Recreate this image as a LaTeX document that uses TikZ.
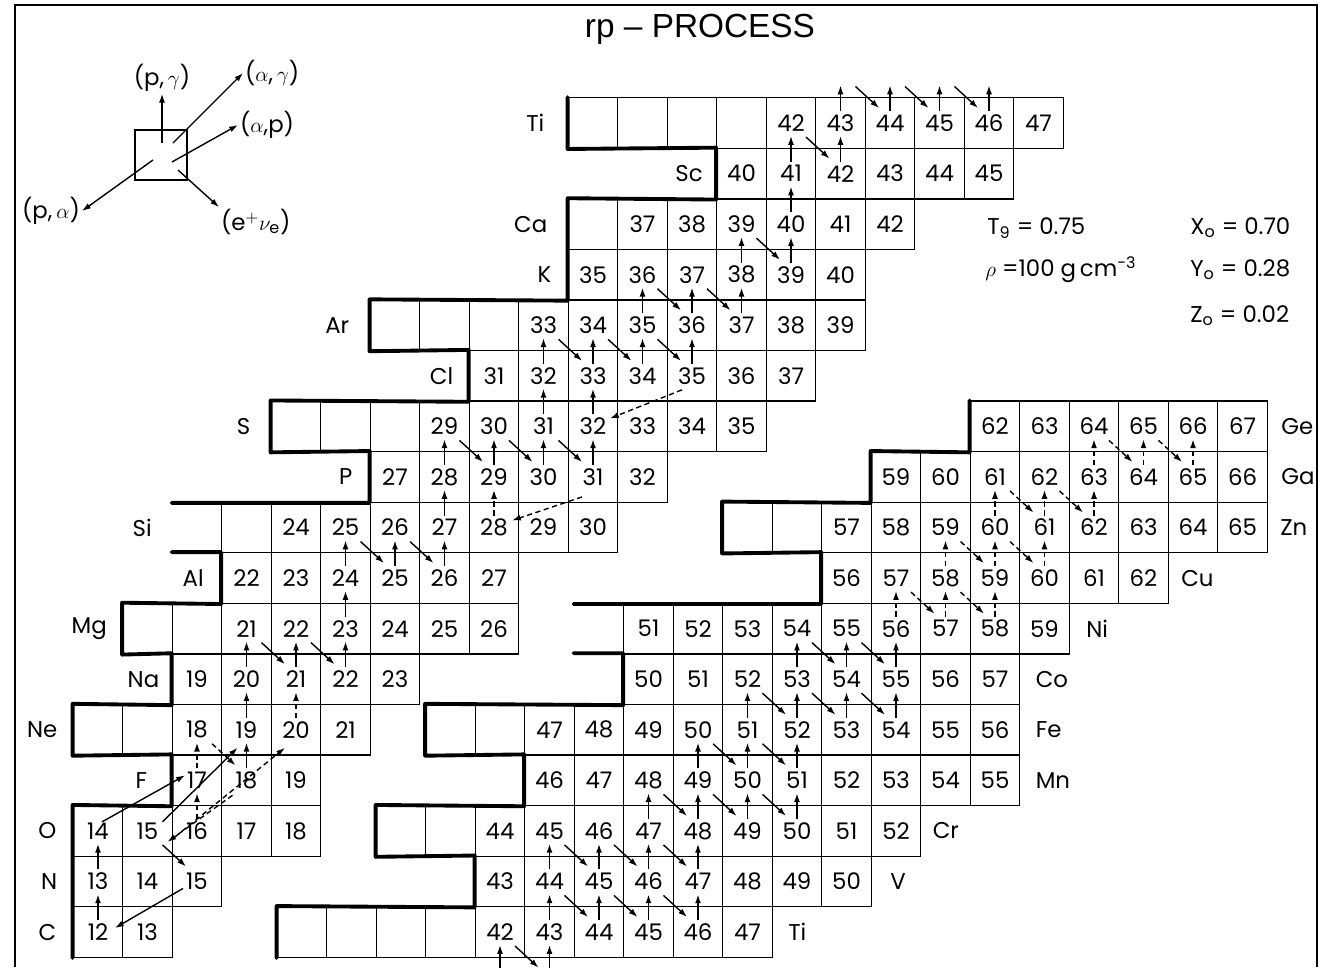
\documentclass[tikz,border=0pt]{standalone}
\usepackage{fontspec}
\setmainfont{Poppins}
\newfontfamily\titlefont{Liberation Sans}
\usetikzlibrary{arrows.meta,calc}
\newcommand\cellfont{\fontsize{13}{14}\selectfont}
\tikzset{
  cell/.style={draw, line width=0.75pt, minimum width=0.99cm, minimum height=1.0112cm, inner sep=0pt, font=\cellfont},
  elem/.style={font=\cellfont, inner sep=0pt},
  drip/.style={line width=2.2pt, line join=round, line cap=round},
  rx/.style={line width=0.8pt, -{Latex[length=5pt,width=3.4pt]}},
  rxd/.style={rx, dash pattern=on 3pt off 2pt},
  lab/.style={font=\cellfont, inner sep=1pt},
  par/.style={font=\cellfont, inner sep=0pt, anchor=west},
}
% one row of the light chart (C..Ti): Z, first N, mass numbers
\newcommand\Lrow[3]{%
  \foreach \m [count=\k from 0] in {#3} {%
    \pgfmathtruncatemacro\nn{#2+\k}%
    \node[cell] (L#1-\nn) at ({98+(\nn-6)*49.5},{932-(#1-6)*50.56}) {\m};
  }}
\newcommand\Lempty[2]{%
  \foreach \nn in {#2} {%
    \node[cell] (L#1-\nn) at ({98+(\nn-6)*49.5},{932-(#1-6)*50.56}) {};
  }}
% one row of the heavy chart (Ti..Ge)
\newcommand\Rrow[3]{%
  \foreach \m [count=\k from 0] in {#3} {%
    \pgfmathtruncatemacro\nn{#2+\k}%
    \node[cell] (R#1-\nn) at ({500+(\nn-20)*49.5},{932-(#1-22)*50.56}) {\m};
  }}
\newcommand\Rempty[2]{%
  \foreach \nn in {#2} {%
    \node[cell] (R#1-\nn) at ({500+(\nn-20)*49.5},{932-(#1-22)*50.56}) {};
  }}
% (p,gamma): straight up;  beta decay: down to the right
\newcommand\rxup[3][]{\draw[rx,#1] ($(#2.center)+(0,-12)$) -- ($(#3.center)+(0,13)$);}
\newcommand\rxdn[3][]{\draw[rx,#1] ($(#2.center)+(15,14)$) -- ($(#3.center)+(-11,-15)$);}

\begin{document}
\begin{tikzpicture}[x=0.02cm,y=-0.02cm]
\useasboundingbox (0,0) rectangle (1335,967);
\fill[white] (0,0) rectangle (1335,967);
\draw[line width=1.2pt] (15,967) -- (15,5) -- (1317,5) -- (1317,967);

\node[font=\titlefont\fontsize{19}{22}\selectfont, inner sep=0pt] (title) at (700,29) {rp – PROCESS};

% ---------------- light nuclei ----------------
\Lrow{6}{6}{12,13}
\Lrow{7}{6}{13,14,15}
\Lrow{8}{6}{14,15,16,17,18}
\Lrow{9}{8}{17,18,19}
\Lempty{10}{6,7}\Lrow{10}{8}{18,19,20,21}
\Lrow{11}{8}{19,20,21,22,23}
\Lempty{12}{7,8}\Lrow{12}{9}{21,22,23,24,25,26}
\Lrow{13}{9}{22,23,24,25,26,27}
\Lempty{14}{9}\Lrow{14}{10}{24,25,26,27,28,29,30}
\Lrow{15}{12}{27,28,29,30,31,32}
\Lempty{16}{10,11,12}\Lrow{16}{13}{29,30,31,32,33,34,35}
\Lrow{17}{14}{31,32,33,34,35,36,37}
\Lempty{18}{12,13,14}\Lrow{18}{15}{33,34,35,36,37,38,39}
\Lrow{19}{16}{35,36,37,38,39,40}
\Lempty{20}{16}\Lrow{20}{17}{37,38,39,40,41,42}
\Lrow{21}{19}{40,41,42,43,44,45}
\Lempty{22}{16,17,18,19}\Lrow{22}{20}{42,43,44,45,46,47}

\node[elem,anchor=east] (zC)  at ($(L6-6.west)+(-16,0)$) {C};
\node[elem,anchor=east] (zN)  at ($(L7-6.west)+(-15,0)$) {N};
\node[elem,anchor=east] (zO)  at ($(L8-6.west)+(-16,0)$) {O};
\node[elem,anchor=east] (zF)  at ($(L9-8.west)+(-24,0)$) {F};
\node[elem,anchor=east] (zNe) at ($(L10-6.west)+(-15,0)$) {Ne};
\node[elem,anchor=east] (zNa) at ($(L11-8.west)+(-12,0)$) {Na};
\node[elem,anchor=east] (zMg) at ($(L12-7.west)+(-15,0)$) {Mg};
\node[elem,anchor=east] (zAl) at ($(L13-9.west)+(-17,0)$) {Al};
\node[elem,anchor=east] (zSi) at ($(L14-9.west)+(-69,0)$) {Si};
\node[elem,anchor=east] (zP)  at ($(L15-12.west)+(-17,0)$) {P};
\node[elem,anchor=east] (zS)  at ($(L16-10.west)+(-20,0)$) {S};
\node[elem,anchor=east] (zCl) at ($(L17-14.west)+(-15,0)$) {Cl};
\node[elem,anchor=east] (zAr) at ($(L18-12.west)+(-20,0)$) {Ar};
\node[elem,anchor=east] (zK)  at ($(L19-16.west)+(-16,0)$) {K};
\node[elem,anchor=east] (zCa) at ($(L20-16.west)+(-20,0)$) {Ca};
\node[elem,anchor=east] (zSc) at ($(L21-19.west)+(-13,0)$) {Sc};
\node[elem,anchor=east] (zTi) at ($(L22-16.west)+(-23,0)$) {Ti};

% proton drip line
\draw[drip] (L6-6.south west) -- (L8-6.north west) -- (L9-8.south west) -- (L9-8.north west)
  -- (L10-6.south west) -- (L10-6.north west) -- (L11-8.south west) -- (L11-8.north west)
  -- (L12-7.south west) -- (L12-7.north west) -- (L13-9.south west) -- (L13-9.north west)
  -- (L13-9.north west -| L11-8.west);
\draw[drip] (L15-12.south west -| L11-8.west) -- (L15-12.south west) -- (L15-12.north west)
  -- (L16-10.south west) -- (L16-10.north west) -- (L17-14.south west) -- (L17-14.north west)
  -- (L18-12.south west) -- (L18-12.north west) -- (L19-16.south west) -- (L20-16.north west)
  -- (L21-19.south west) -- (L21-19.north west) -- (L22-16.south west) -- (L22-16.north west);

% nuclei just above the top row
\coordinate (V44) at ($(L22-21.center)+(0,-50.56)$);
\coordinate (V45) at ($(L22-22.center)+(0,-50.56)$);
\coordinate (V46) at ($(L22-23.center)+(0,-50.56)$);
\coordinate (V47) at ($(L22-24.center)+(0,-50.56)$);

% reaction flow, light nuclei
\rxup{L6-6}{L7-6}
\rxup{L7-6}{L8-6}
\draw[rx] ($(L7-8.center)+(-14,7)$) -- ($(L6-6.center)+(17,-4)$);
\rxdn{L8-7}{L7-8}
\draw[rx] ($(L8-6.center)+(4,-9)$) -- ($(L9-8.center)+(-12,-5)$);
\draw[rx] ($(L8-7.center)+(15,-9)$) -- ($(L10-9.center)+(-9,18)$);
\draw[rxd] ($(L9-9.center)+(-14,15)$) -- ($(L8-7.center)+(20,11)$);
\draw[rxd] ($(L8-8.center)+(-22,6)$) -- ($(L10-10.center)+(-11,18)$);
\rxup[rxd]{L8-8}{L9-8}
\rxup[rxd]{L9-8}{L10-8}
\rxdn[rxd]{L10-8}{L9-9}
\rxup{L9-9}{L10-9}
\rxup{L10-9}{L11-9}
\rxup[rxd]{L10-10}{L11-10}
\rxup{L11-9}{L12-9}
\rxdn{L12-9}{L11-10}
\rxup{L11-10}{L12-10}
\rxdn{L12-10}{L11-11}
\rxup{L11-11}{L12-11}
\rxup{L12-11}{L13-11}
\rxup{L13-11}{L14-11}
\rxdn{L14-11}{L13-12}
\rxup{L13-12}{L14-12}
\rxdn{L14-12}{L13-13}
\rxup{L13-13}{L14-13}
\rxup{L14-13}{L15-13}
\rxup[rxd]{L14-14}{L15-14}
\draw[rxd] ($(L15-16.center)+(-11,20)$) -- ($(L14-14.center)+(18,-7)$);
\rxup{L15-13}{L16-13}
\rxdn{L16-13}{L15-14}
\rxup{L15-14}{L16-14}
\rxdn{L16-14}{L15-15}
\rxup{L15-15}{L16-15}
\rxdn{L16-15}{L15-16}
\rxup{L15-16}{L16-16}
\rxup{L16-15}{L17-15}
\rxup{L16-16}{L17-16}
\draw[rxd] ($(L17-18.center)+(-10,14)$) -- ($(L16-16.center)+(17,-8)$);
\rxup{L17-15}{L18-15}
\rxdn{L18-15}{L17-16}
\rxup{L17-16}{L18-16}
\rxdn{L18-16}{L17-17}
\rxup{L17-17}{L18-17}
\rxdn{L18-17}{L17-18}
\rxup{L17-18}{L18-18}
\rxup{L18-17}{L19-17}
\rxdn{L19-17}{L18-18}
\rxup{L18-18}{L19-18}
\rxdn{L19-18}{L18-19}
\rxup{L18-19}{L19-19}
\rxup{L19-19}{L20-19}
\rxdn{L20-19}{L19-20}
\rxup{L19-20}{L20-20}
\rxup{L20-20}{L21-20}
\rxup{L21-20}{L22-20}
\rxdn{L22-20}{L21-21}
\rxup{L21-21}{L22-21}
\rxup{L22-21}{V44}
\rxdn{V44}{L22-22}
\rxup{L22-22}{V45}
\rxdn{V45}{L22-23}
\rxup{L22-23}{V46}
\rxdn{V46}{L22-24}
\rxup{L22-24}{V47}

% ---------------- heavy nuclei ----------------
\Rempty{22}{16,17,18,19}\Rrow{22}{20}{42,43,44,45,46,47}
\Rrow{23}{20}{43,44,45,46,47,48,49,50}
\Rempty{24}{18,19}\Rrow{24}{20}{44,45,46,47,48,49,50,51,52}
\Rrow{25}{21}{46,47,48,49,50,51,52,53,54,55}
\Rempty{26}{19,20}\Rrow{26}{21}{47,48,49,50,51,52,53,54,55,56}
\Rrow{27}{23}{50,51,52,53,54,55,56,57}
\Rrow{28}{23}{51,52,53,54,55,56,57,58,59}
\Rrow{29}{27}{56,57,58,59,60,61,62}
\Rempty{30}{25,26}\Rrow{30}{27}{57,58,59,60,61,62,63,64,65}
\Rrow{31}{28}{59,60,61,62,63,64,65,66}
\Rrow{32}{30}{62,63,64,65,66,67}

\node[elem,anchor=west] (wTi) at ($(R22-25.east)+(15,0)$) {Ti};
\node[elem,anchor=west] (wV)  at ($(R23-27.east)+(18,0)$) {V};
\node[elem,anchor=west] (wCr) at ($(R24-28.east)+(11,0)$) {Cr};
\node[elem,anchor=west] (wMn) at ($(R25-30.east)+(15,0)$) {Mn};
\node[elem,anchor=west] (wFe) at ($(R26-30.east)+(15,0)$) {Fe};
\node[elem,anchor=west] (wCo) at ($(R27-30.east)+(15,0)$) {Co};
\node[elem,anchor=west] (wNi) at ($(R28-31.east)+(16,0)$) {Ni};
\node[elem,anchor=west] (wCu) at ($(R29-33.east)+(12,0)$) {Cu};
\node[elem,anchor=west] (wZn) at ($(R30-35.east)+(12,0)$) {Zn};
\node[elem,anchor=west] (wGa) at ($(R31-35.east)+(13,0)$) {Ga};
\node[elem,anchor=west] (wGe) at ($(R32-35.east)+(13,0)$) {Ge};

\draw[drip] (R22-16.south west) -- (R22-16.north west) -- (R23-20.south west) -- (R23-20.north west)
  -- (R24-18.south west) -- (R24-18.north west) -- (R25-21.south west) -- (R25-21.north west)
  -- (R26-19.south west) -- (R26-19.north west) -- (R27-23.south west) -- (R27-23.north west)
  -- (R27-23.north west -| R24-22.west);
\draw[drip] (R29-27.south west -| R24-22.west) -- (R29-27.south west) -- (R29-27.north west)
  -- (R30-25.south west) -- (R30-25.north west) -- (R31-28.south west) -- (R31-28.north west)
  -- (R32-30.south west) -- (R32-30.north west);

% nuclei just below the bottom row
\coordinate (Sc41) at ($(R22-20.center)+(0,50.56)$);
\coordinate (Sc42) at ($(R22-21.center)+(0,50.56)$);

\rxup{Sc41}{R22-20}
\rxup{Sc42}{R22-21}
\rxdn{R22-20}{Sc42}
\rxup{R22-21}{R23-21}
\rxup{R22-22}{R23-22}
\rxup{R22-23}{R23-23}
\rxup{R22-24}{R23-24}
\rxdn{R23-21}{R22-22}
\rxdn{R23-22}{R22-23}
\rxdn{R23-23}{R22-24}
\rxup{R23-21}{R24-21}
\rxup{R23-22}{R24-22}
\rxup{R23-23}{R24-23}
\rxup{R23-24}{R24-24}
\rxdn{R24-21}{R23-22}
\rxdn{R24-22}{R23-23}
\rxdn{R24-23}{R23-24}
\rxup{R24-23}{R25-23}
\rxup{R24-24}{R25-24}
\rxup{R24-25}{R25-25}
\rxup{R24-26}{R25-26}
\rxdn{R25-23}{R24-24}
\rxdn{R25-24}{R24-25}
\rxdn{R25-25}{R24-26}
\rxup{R25-24}{R26-24}
\rxup{R25-25}{R26-25}
\rxup{R25-26}{R26-26}
\rxdn{R26-24}{R25-25}
\rxdn{R26-25}{R25-26}
\rxup{R26-25}{R27-25}
\rxup{R26-26}{R27-26}
\rxup{R26-27}{R27-27}
\rxup{R26-28}{R27-28}
\rxdn{R27-25}{R26-26}
\rxdn{R27-26}{R26-27}
\rxdn{R27-27}{R26-28}
\rxup{R27-26}{R28-26}
\rxup{R27-27}{R28-27}
\rxup{R27-28}{R28-28}
\rxdn{R28-26}{R27-27}
\rxdn{R28-27}{R27-28}
\rxup[rxd]{R28-28}{R29-28}
\rxup[rxd]{R28-29}{R29-29}
\rxup[rxd]{R28-30}{R29-30}
\rxdn[rxd]{R29-28}{R28-29}
\rxdn[rxd]{R29-29}{R28-30}
\rxup[rxd]{R29-29}{R30-29}
\rxup[rxd]{R29-30}{R30-30}
\rxup[rxd]{R29-31}{R30-31}
\rxdn[rxd]{R30-29}{R29-30}
\rxdn[rxd]{R30-30}{R29-31}
\rxup[rxd]{R30-30}{R31-30}
\rxup[rxd]{R30-31}{R31-31}
\rxup[rxd]{R30-32}{R31-32}
\rxdn[rxd]{R31-30}{R30-31}
\rxdn[rxd]{R31-31}{R30-32}
\rxup[rxd]{R31-32}{R32-32}
\rxup[rxd]{R31-33}{R32-33}
\rxup[rxd]{R31-34}{R32-34}
\rxdn[rxd]{R32-32}{R31-33}
\rxdn[rxd]{R32-33}{R31-34}

% ---------------- key ----------------
\node[draw, line width=0.9pt, minimum width=1.04cm, minimum height=1cm, inner sep=0pt] (key) at (161,155) {};
\node[lab] (kpg) at (162,78) {(p,\,$\gamma$)};
\node[lab,anchor=west] (kag) at (243,73) {($\alpha$,\,$\gamma$)};
\node[lab,anchor=west] (kap) at (238,125) {($\alpha$,p)};
\node[lab,anchor=east] (kpa) at (82,211) {(p,\,$\alpha$)};
\node[lab,anchor=west] (kev) at (219,222) {(e$^{+}\nu_{\mathrm e}$)};
\draw[rx] ($(key.center)+(1,-12)$) -- (kpg.south);
\draw[rx] ($(key.center)+(12,-12)$) -- (kag.west);
\draw[rx] ($(key.center)+(11,7)$) -- (kap.west);
\draw[rx] ($(key.center)+(-8,5)$) -- (kpa.east);
\draw[rx] ($(key.center)+(17,15)$) -- (kev.north west);

% ---------------- conditions ----------------
\node[par] (tnine) at (987,228) {T\textsubscript{9} = 0.75};
\node[par] (rho)   at (985,270) {$\rho$ =100 g\,cm\textsuperscript{-3}};
\node[par] (xo)    at (1190,228) {X\textsubscript{o} = 0.70};
\node[par] (yo)    at (1190,270) {Y\textsubscript{o} = 0.28};
\node[par] (zo)    at (1190,316) {Z\textsubscript{o} = 0.02};
\end{tikzpicture}
\end{document}
